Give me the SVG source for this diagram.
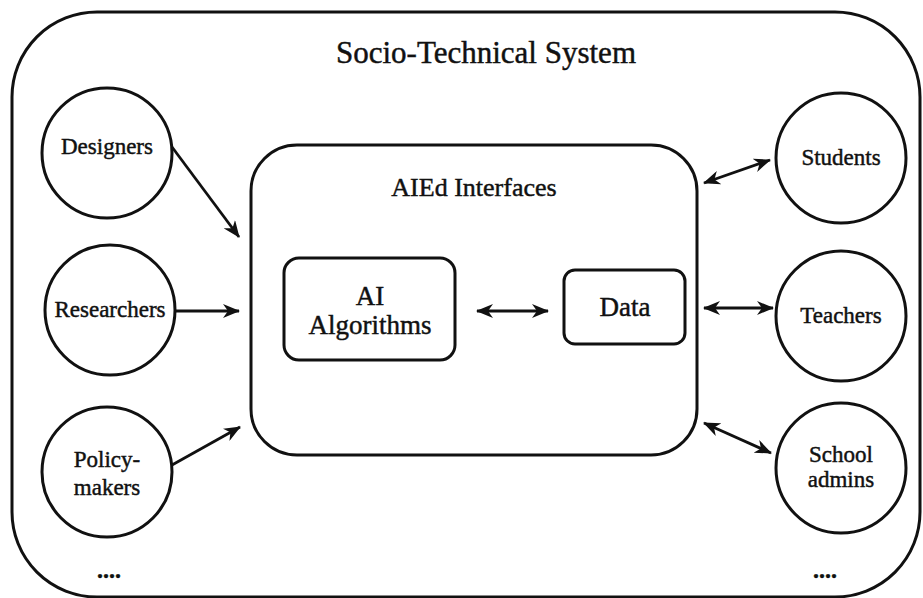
<svg xmlns="http://www.w3.org/2000/svg" width="923" height="598" viewBox="0 0 923 598">
<defs>
<style>
.b{fill:none;stroke:#111;stroke-width:3}
.n{fill:#fff;stroke:#111;stroke-width:3}
.t{font-family:"Liberation Serif","DejaVu Serif",serif;fill:#111;stroke:#111;stroke-width:0.45;text-anchor:middle}
.c{stroke:#111;stroke-width:2.8;fill:none}
</style>
<marker id="ah" viewBox="0 0 17 14" refX="16" refY="7" markerWidth="17" markerHeight="14" markerUnits="userSpaceOnUse" orient="auto-start-reverse">
<path d="M0,0 L17,7 L0,14 L5,7 z" fill="#111"/>
</marker>
</defs>
<rect width="923" height="598" fill="#fff"/>
<g id="system">
<rect class="b" x="12" y="12" width="908" height="585" rx="85" ry="85"/>
<text class="t" x="486" y="63" font-size="31">Socio-Technical System</text>
</g>
<g id="aied">
<rect class="n" x="251" y="145" width="446" height="310" rx="46" ry="46"/>
<text class="t" x="474" y="196" font-size="26">AIEd Interfaces</text>
</g>
<g id="algorithms">
<rect class="n" x="284" y="258" width="171" height="102" rx="15" ry="15"/>
<text class="t" x="370" y="305" font-size="27">AI</text>
<text class="t" x="370" y="334" font-size="27">Algorithms</text>
</g>
<g id="data">
<rect class="n" x="564" y="270" width="121" height="74" rx="11" ry="11"/>
<text class="t" x="625" y="316" font-size="27">Data</text>
</g>
<g id="designers">
<circle class="n" cx="107" cy="153" r="65"/>
<text class="t" x="107" y="154" font-size="23">Designers</text>
</g>
<g id="researchers">
<circle class="n" cx="110" cy="310" r="65"/>
<text class="t" x="110" y="317" font-size="23">Researchers</text>
</g>
<g id="policymakers">
<circle class="n" cx="107" cy="472" r="65"/>
<text class="t" x="107" y="467" font-size="23">Policy-</text>
<text class="t" x="107" y="495" font-size="23">makers</text>
</g>
<g id="students">
<circle class="n" cx="841" cy="158" r="65"/>
<text class="t" x="841" y="165" font-size="23">Students</text>
</g>
<g id="teachers">
<circle class="n" cx="841" cy="316" r="65"/>
<text class="t" x="841" y="323" font-size="23">Teachers</text>
</g>
<g id="admins">
<circle class="n" cx="841" cy="468" r="65"/>
<text class="t" x="841" y="462" font-size="23">School</text>
<text class="t" x="841" y="487" font-size="23">admins</text>
</g>
<g id="more-left"><text class="t" x="109" y="578" font-size="24" font-weight="bold">....</text></g>
<g id="more-right"><text class="t" x="825" y="578" font-size="24" font-weight="bold">....</text></g>
<g id="connectors">
<line class="c" x1="172" y1="147" x2="239" y2="237" marker-end="url(#ah)"/>
<line class="c" x1="176" y1="311" x2="239" y2="311" marker-end="url(#ah)"/>
<line class="c" x1="172" y1="465" x2="240" y2="427" marker-end="url(#ah)"/>
<line class="c" x1="477" y1="311" x2="548" y2="311" marker-start="url(#ah)" marker-end="url(#ah)"/>
<line class="c" x1="704" y1="183" x2="770" y2="160" marker-start="url(#ah)" marker-end="url(#ah)"/>
<line class="c" x1="704" y1="308" x2="773" y2="308" marker-start="url(#ah)" marker-end="url(#ah)"/>
<line class="c" x1="704" y1="423" x2="771" y2="453" marker-start="url(#ah)" marker-end="url(#ah)"/>
</g>
</svg>
